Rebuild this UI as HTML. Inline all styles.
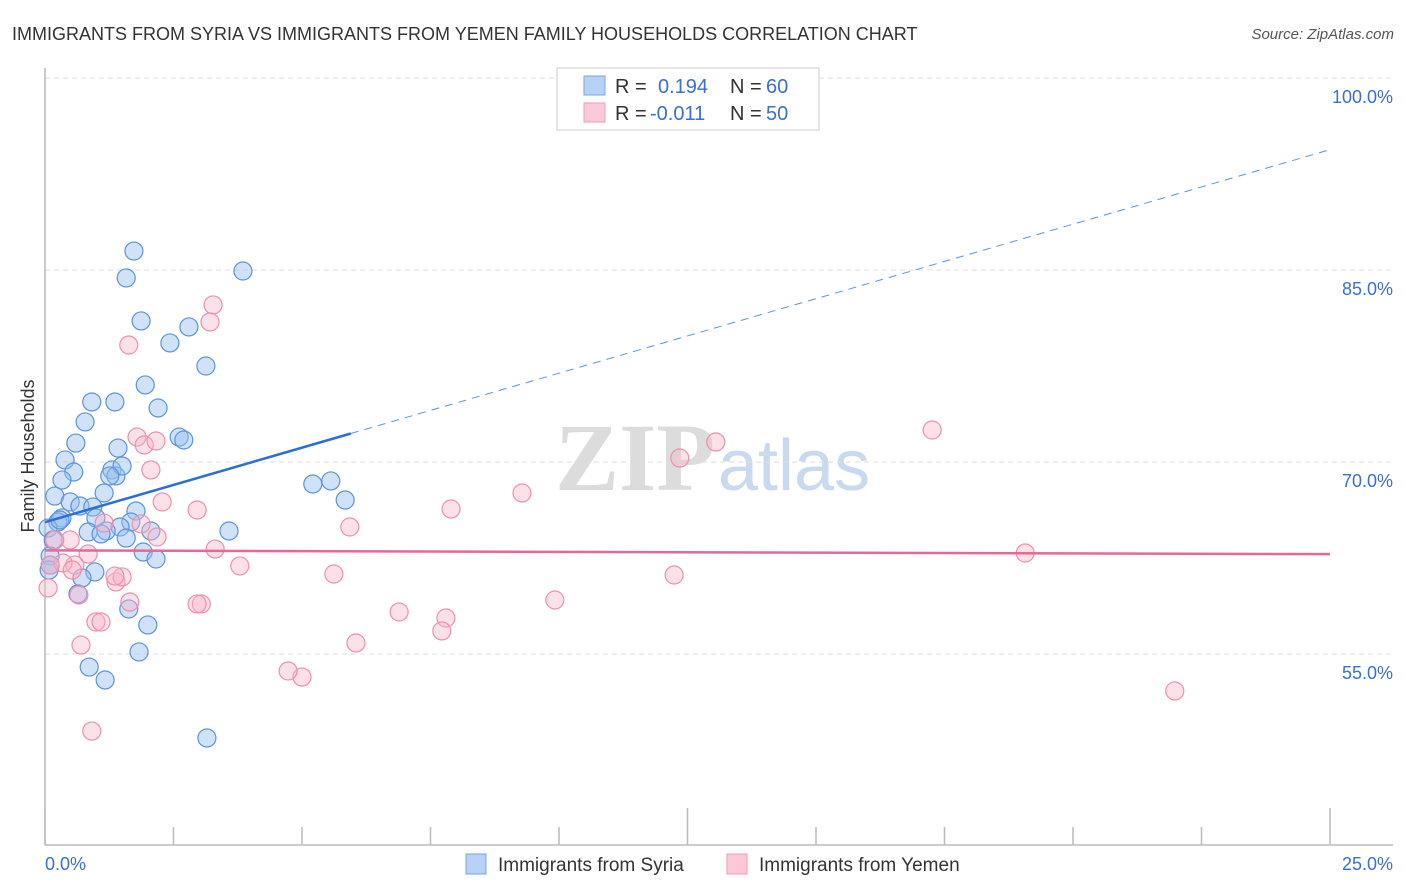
<!DOCTYPE html>
<html><head><meta charset="utf-8"><style>
body{margin:0;background:#fff;font-family:"Liberation Sans",sans-serif;}
svg{display:block}
</style></head><body>
<svg id="chart" width="1406" height="892" viewBox="0 0 1406 892" xmlns="http://www.w3.org/2000/svg">
<text x="12" y="40" font-size="18" fill="#333">IMMIGRANTS FROM SYRIA VS IMMIGRANTS FROM YEMEN FAMILY HOUSEHOLDS CORRELATION CHART</text>
<text x="1394" y="39" font-size="15" fill="#555" font-style="italic" text-anchor="end">Source: ZipAtlas.com</text>
<g>
<text x="555" y="490" font-size="96" font-family="Liberation Serif,serif" fill="#dcdcdc" font-weight="bold">ZIP</text>
<text x="718" y="490" font-size="72" fill="#c9d9f0">atlas</text>
</g>
<g id="grid"></g>
<g id="axes"></g>
<g id="points"></g>
<g id="trends"></g>
<text transform="translate(34,456) rotate(-90)" font-size="18" fill="#333" text-anchor="middle">Family Households</text>
<g>
<rect x="557" y="68" width="262" height="62" fill="#fff" stroke="#ddd" stroke-width="1.5"/>
<rect x="584" y="76" width="21" height="19" fill="#b8d2f5" stroke="#7aa6e6"/>
<rect x="584" y="103" width="21" height="19" fill="#fcc9d8" stroke="#f29ab5"/>
<text x="615" y="93" font-size="20" fill="#333">R =</text>
<text x="658" y="93" font-size="20" fill="#3a6fd3">0.194</text>
<text x="730" y="93" font-size="20" fill="#333">N =</text>
<text x="766" y="93" font-size="20" fill="#3a6fd3">60</text>
<text x="615" y="120" font-size="20" fill="#333">R =</text>
<text x="650" y="120" font-size="20" fill="#3a6fd3">-0.011</text>
<text x="730" y="120" font-size="20" fill="#333">N =</text>
<text x="766" y="120" font-size="20" fill="#3a6fd3">50</text>
</g>
<g>
<rect x="466" y="854" width="20" height="20" fill="#b8d2f5" stroke="#7aa6e6"/>
<text x="498" y="871" font-size="19" fill="#333">Immigrants from Syria</text>
<rect x="727" y="854" width="20" height="20" fill="#fcc9d8" stroke="#f29ab5"/>
<text x="759" y="871" font-size="19" fill="#333">Immigrants from Yemen</text>
</g>
</svg>
<script>
const yTicks=[100,85,70,55];
const yTickLabels=["100.0%","85.0%","70.0%","55.0%"];
const xTickLabels=["0.0%","25.0%"];
const syriaX=[1.73,1.58,3.85,1.87,2.80,2.43,3.13,1.95,0.91,1.36,2.20,0.78,0.60,1.42,2.61,2.70,0.39,0.56,1.30,1.38,1.50,1.26,0.33,0.19,0.49,1.15,0.68,0.93,0.33,0.25,0.99,1.77,1.67,0.06,1.46,1.19,0.84,1.09,2.06,1.58,3.58,0.16,5.21,5.56,5.84,1.91,2.16,0.10,0.08,0.97,0.72,0.64,1.63,2.00,1.83,0.86,1.17,3.15,0.10,0.29];
const syriaY=[86.48,84.38,84.92,81.02,80.55,79.30,77.50,76.02,74.69,74.69,74.22,73.13,71.48,71.09,71.95,71.72,70.16,69.22,69.38,68.91,69.69,68.91,68.59,67.34,66.88,67.58,66.56,66.48,65.63,65.31,65.63,66.17,65.31,64.84,64.92,64.61,64.53,64.38,64.61,64.06,64.61,63.91,68.28,68.52,67.03,62.97,62.42,62.66,61.56,61.41,60.94,59.69,58.52,57.27,55.16,53.98,52.97,48.44,61.95,65.47];
const yemenX=[3.27,3.21,1.63,1.79,1.93,2.16,2.06,2.28,2.96,1.87,1.15,2.18,3.31,3.79,5.62,5.93,7.90,9.28,12.35,13.05,17.26,19.07,21.98,9.92,7.80,7.72,6.89,6.05,5.00,4.73,3.04,2.96,1.38,1.50,1.36,1.65,0.99,1.09,0.70,0.91,0.84,0.58,0.35,0.10,0.06,0.49,0.19,0.66,12.24,0.53];
const yemenY=[82.27,80.94,79.14,71.95,71.33,71.64,69.38,66.88,66.25,65.16,65.23,64.14,63.20,61.88,61.25,64.92,66.33,67.58,70.31,71.56,72.50,62.89,52.11,59.22,57.81,56.80,58.28,55.86,53.20,53.67,58.91,58.91,60.63,61.02,61.09,59.06,57.50,57.50,55.70,48.98,62.81,61.95,62.11,61.95,60.16,63.91,63.91,59.61,61.17,61.56];
const syriaTrend=[65.3,94.4];
const yemenTrend=[63.1,62.8];
const syriaSolidEnd=5.95;

const NS="http://www.w3.org/2000/svg";
const X0=45,X1=1330,XMIN=0,XMAX=25,Y100=78,PXPER=12.8;
function sx(v){return X0+(v-XMIN)/(XMAX-XMIN)*(X1-X0);}
function sy(v){return Y100+(100-v)*PXPER;}
function mk(tag,attrs,parent){const e=document.createElementNS(NS,tag);for(const k in attrs)e.setAttribute(k,attrs[k]);parent.appendChild(e);return e;}

const grid=document.getElementById('grid');
yTicks.forEach((t,i)=>{
  const l=mk('line',{x1:45,x2:1393,y1:sy(t),y2:sy(t),stroke:'#dedede','stroke-dasharray':'5,4'},grid);
  
  
  const tx=mk('text',{x:1393,y:sy(t)+25,'font-size':18,fill:'#3a6fd3','text-anchor':'end'},grid);
  tx.textContent=yTickLabels[i];
  
  
});
const axes=document.getElementById('axes');
const ya=mk('line',{x1:45,x2:45,y1:68,y2:845,stroke:'#bbb','stroke-width':1.5},axes);


const xa=mk('line',{x1:45,x2:1393,y1:845,y2:845,stroke:'#bbb','stroke-width':1.5},axes);


for(let i=0;i<=10;i++){
  const v=i*2.5;
  const tk=mk('line',{x1:sx(v),x2:sx(v),y1:(i%5==0?808:827),y2:845,stroke:'#bbb','stroke-width':1.5},axes);
  
  
}
const xl0=mk('text',{x:45,y:870,'font-size':18,fill:'#3a6fd3'},axes);xl0.textContent=xTickLabels[0];


const xl1=mk('text',{x:1393,y:870,'font-size':18,fill:'#3a6fd3','text-anchor':'end'},axes);xl1.textContent=xTickLabels[1];



const pts=document.getElementById('points');
syriaX.forEach((x,i)=>{
  const c=mk('circle',{cx:sx(x),cy:sy(syriaY[i]),r:9,fill:'rgba(150,190,240,0.45)',stroke:'#5b93dd','stroke-width':1.2},pts);
  
  
});
yemenX.forEach((x,i)=>{
  const c=mk('circle',{cx:sx(x),cy:sy(yemenY[i]),r:9,fill:'rgba(250,180,200,0.4)',stroke:'#ee8fae','stroke-width':1.2},pts);
  
  
});
const tr=document.getElementById('trends');
function lin(a,x){return a[0]+(a[1]-a[0])*x/25;}
const s1=mk('line',{x1:sx(0),y1:sy(syriaTrend[0]),x2:sx(syriaSolidEnd),y2:sy(lin(syriaTrend,syriaSolidEnd)),stroke:'#2a6fd6','stroke-width':2.5},tr);


const s2=mk('line',{x1:sx(syriaSolidEnd),y1:sy(lin(syriaTrend,syriaSolidEnd)),x2:sx(25),y2:sy(syriaTrend[1]),stroke:'#5b93dd','stroke-width':1,'stroke-dasharray':'8,6'},tr);


const y1=mk('line',{x1:sx(0),y1:sy(yemenTrend[0]),x2:sx(25),y2:sy(yemenTrend[1]),stroke:'#e8679a','stroke-width':2.5},tr);


</script>
</body></html>
